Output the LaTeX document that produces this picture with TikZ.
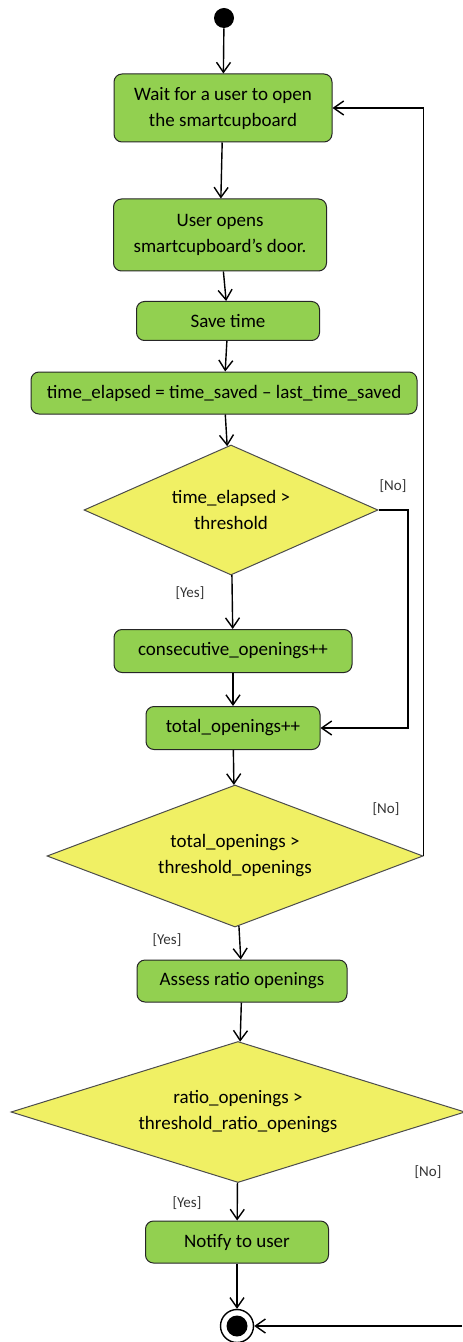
\documentclass[tikz,border=0pt]{standalone}
\usepackage{fontspec}
\setmainfont{Carlito}
\usetikzlibrary{arrows.meta,shapes.geometric}
\definecolor{actgreen}{RGB}{146,208,80}
\definecolor{decyellow}{RGB}{240,240,100}

\begin{document}
\begin{tikzpicture}[x=0.5pt,y=-0.5pt,
  act/.style={draw=black!85,fill=actgreen,rounded corners=4pt,line width=0.5pt,
    align=center,inner sep=0pt,font=\fontsize{9.5}{13}\selectfont},
  dec/.style={diamond,aspect=3,draw=black!70,fill=decyellow,line width=0.5pt,
    align=center,inner sep=0pt,font=\fontsize{9.5}{13}\selectfont},
  guard/.style={font=\fontsize{7.5}{9}\selectfont,text=black!80},
  flow/.style={-{Straight Barb[length=5pt,width=7pt]},line width=0.7pt}]
  \useasboundingbox (0,0) rectangle (462,1342);
  % start node
  \node[circle,fill=black,minimum size=10pt,inner sep=0pt] (start) at (224,18) {};
  % actions and decisions
  \node[act,minimum width=109pt,minimum height=34pt] (wait) at (223,108) {Wait for a user to open\\the smartcupboard};
  \node[act,minimum width=106.5pt,minimum height=36pt] (opens) at (220,235) {User opens\\smartcupboard’s door.};
  \node[act,minimum width=91.5pt,minimum height=19.5pt] (save) at (228,321) {Save time};
  \node[act,minimum width=193pt,minimum height=21pt] (elapsed) at (224,393) {time\_elapsed = time\_saved – last\_time\_saved};
  \node[dec,minimum width=147pt,minimum height=65pt] (d1) at (231,510) {time\_elapsed >\\threshold};
  \node[act,minimum width=119pt,minimum height=21.5pt] (consec) at (233,651) {consecutive\_openings++};
  \node[act,minimum width=87pt,minimum height=21.5pt] (total) at (233,728) {total\_openings++};
  \node[dec,minimum width=188pt,minimum height=71pt] (d2) at (235,856) {total\_openings >\\threshold\_openings};
  \node[act,minimum width=105pt,minimum height=21pt] (assess) at (242,981) {Assess ratio openings};
  \node[dec,minimum width=227pt,minimum height=70.5pt] (d3) at (238,1112) {ratio\_openings >\\threshold\_ratio\_openings};
  \node[act,minimum width=91.5pt,minimum height=21pt] (notify) at (237,1242) {Notify to user};
  % final node
  \node[circle,draw,fill=white,line width=0.7pt,minimum size=16.5pt,inner sep=0pt] (final) at (237,1326) {};
  \fill (final.center) circle[radius=5.25pt];
  % guards
  \node[guard] (no1) at (393,486) {[No]};
  \node[guard] (yes1) at (190,593) {[Yes]};
  \node[guard] (no2) at (386,809) {[No]};
  \node[guard] (yes2) at (167,940) {[Yes]};
  \node[guard] (no3) at (428,1172) {[No]};
  \node[guard] (yes3) at (187,1203) {[Yes]};
  % flows
  \draw[flow] (start) -- (wait);
  \draw[flow] (wait) -- (opens);
  \draw[flow] (opens) -- (save);
  \draw[flow] (save) -- (elapsed);
  \draw[flow] (elapsed) -- (d1);
  \draw[flow] (d1) -- (consec);
  \draw[flow] (consec) -- (total);
  \draw[flow] (total) -- (d2);
  \draw[flow] (d2) -- (assess);
  \draw[flow] (assess) -- (d3);
  \draw[flow] (d3) -- (notify);
  \draw[flow] (notify) -- (final);
  % back edges
  \coordinate (k1) at (408,510);
  \draw[flow] (d1.east) -- (k1) |- (total.east);
  \draw[flow] (d2.east) |- (wait.east);
  \coordinate (k3) at (462,1326);
  \draw[flow] (k3) -- (final);
\end{tikzpicture}
\end{document}
